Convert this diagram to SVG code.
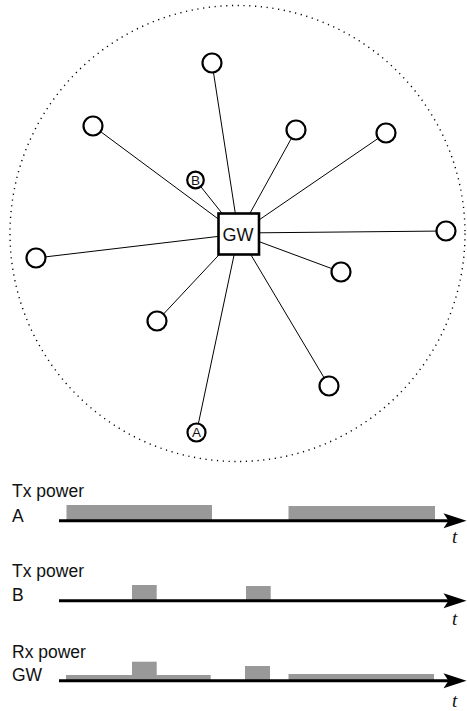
<svg xmlns="http://www.w3.org/2000/svg" width="467" height="711" viewBox="0 0 467 711">
  <style>
    .range { fill: none; stroke: #000; stroke-width: 1.4; stroke-dasharray: 1.2 4.6; }
    .link { stroke: #000; stroke-width: 1; }
    .node { fill: #fff; stroke: #000; stroke-width: 2.2; }
    .gw { fill: #fff; stroke: #000; stroke-width: 2.6; }
    .lbl { font-family: "Liberation Sans", Arial, sans-serif; fill: #111; }
    .axis { stroke: #000; stroke-width: 3; }
    .bar { fill: #999; }
    .t { font-family: "Liberation Serif", "Times New Roman", serif; font-style: italic; font-size: 19px; fill: #111; }
  </style>
  <defs>
    <path id="arrowhead" d="M0,0 L-23,-7.5 L-18,0 L-23,7.5 Z" fill="#000"/>
  </defs>

  <rect width="467" height="711" fill="#fff"/>

  <!-- coverage range of the gateway -->
  <ellipse class="range" cx="237.5" cy="233.5" rx="227.5" ry="228"/>

  <!-- links from each end device to the gateway -->
  <g id="connectors">
    <line class="link" x1="212" y1="63" x2="238.5" y2="234"/>
    <line class="link" x1="93" y1="126" x2="238.5" y2="234"/>
    <line class="link" x1="296" y1="130" x2="238.5" y2="234"/>
    <line class="link" x1="386" y1="133" x2="238.5" y2="234"/>
    <line class="link" x1="195.5" y1="180" x2="238.5" y2="234"/>
    <line class="link" x1="446" y1="231" x2="238.5" y2="233"/>
    <line class="link" x1="36" y1="258" x2="238.5" y2="234"/>
    <line class="link" x1="341" y1="272" x2="238.5" y2="234"/>
    <line class="link" x1="157" y1="321" x2="238.5" y2="234"/>
    <line class="link" x1="329" y1="386" x2="238.5" y2="234"/>
    <line class="link" x1="196.5" y1="432.5" x2="238.5" y2="234"/>
  </g>

  <!-- end devices -->
  <g id="n1"><circle class="node" cx="212" cy="63" r="9.5"/></g>
  <g id="n2"><circle class="node" cx="93" cy="126" r="9.5"/></g>
  <g id="n3"><circle class="node" cx="296" cy="130" r="9.5"/></g>
  <g id="n4"><circle class="node" cx="386" cy="133" r="9.5"/></g>
  <g id="n5"><circle class="node" cx="446" cy="231" r="9.5"/></g>
  <g id="n6"><circle class="node" cx="36" cy="258" r="9.5"/></g>
  <g id="n7"><circle class="node" cx="341" cy="272" r="9.5"/></g>
  <g id="n8"><circle class="node" cx="157" cy="321" r="9.5"/></g>
  <g id="n9"><circle class="node" cx="329" cy="386" r="9.5"/></g>
  <g id="nodeB">
    <circle class="node" cx="195.5" cy="180" r="8.3"/>
    <text class="lbl" x="195.5" y="184.8" font-size="13.5" text-anchor="middle">B</text>
  </g>
  <g id="nodeA">
    <circle class="node" cx="196.5" cy="432.5" r="9"/>
    <text class="lbl" x="196.5" y="437.3" font-size="13.5" text-anchor="middle">A</text>
  </g>

  <!-- gateway -->
  <g id="gateway">
    <rect class="gw" x="218.5" y="213.5" width="40.5" height="41"/>
    <text class="lbl" x="238" y="240.5" font-size="18" text-anchor="middle">GW</text>
  </g>

  <!-- timing: transmit power of A -->
  <g id="timeline-A">
    <text class="lbl" x="12" y="497" font-size="17.5">Tx power</text>
    <text class="lbl" x="12" y="522" font-size="17.5">A</text>
    <rect class="bar" x="66.5" y="505" width="145.5" height="15"/>
    <rect class="bar" x="288.5" y="506" width="146.5" height="14"/>
    <line class="axis" x1="59" y1="520.7" x2="450" y2="520.7"/>
    <use href="#arrowhead" x="466.5" y="520.7"/>
    <text class="t" x="452" y="543">t</text>
  </g>

  <!-- timing: transmit power of B -->
  <g id="timeline-B">
    <text class="lbl" x="12" y="577" font-size="17.5">Tx power</text>
    <text class="lbl" x="12" y="601" font-size="17.5">B</text>
    <rect class="bar" x="132" y="585" width="24.7" height="15"/>
    <rect class="bar" x="246" y="586" width="24.7" height="14"/>
    <line class="axis" x1="59" y1="600.7" x2="450" y2="600.7"/>
    <use href="#arrowhead" x="466.5" y="600.7"/>
    <text class="t" x="452" y="625">t</text>
  </g>

  <!-- timing: received power at the gateway -->
  <g id="timeline-GW">
    <text class="lbl" x="12" y="657.5" font-size="17.5">Rx power</text>
    <text class="lbl" x="12" y="681" font-size="17.5">GW</text>
    <rect class="bar" x="66" y="675" width="144.7" height="6"/>
    <rect class="bar" x="132" y="661.7" width="24.7" height="19"/>
    <rect class="bar" x="245" y="666" width="25" height="15"/>
    <rect class="bar" x="288.5" y="674" width="145.5" height="7"/>
    <line class="axis" x1="59" y1="680.7" x2="450" y2="680.7"/>
    <use href="#arrowhead" x="466.5" y="680.7"/>
    <text class="t" x="452" y="706.5">t</text>
  </g>
</svg>
